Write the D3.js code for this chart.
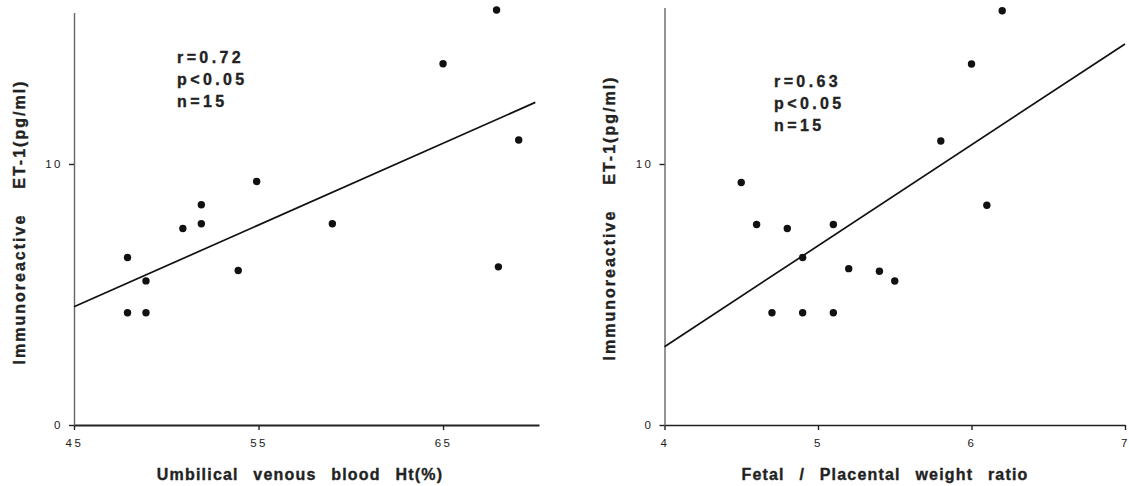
<!DOCTYPE html>
<html>
<head>
<meta charset="utf-8">
<script src="https://cdn.jsdelivr.net/npm/d3@7"></script>
<style>
	body { margin: 0; background: #fff; }
	svg { display: block; font-family: "Liberation Sans", Arial, sans-serif; }
	.tick text { font-size: 11.5px; letter-spacing: 2.5px; fill: #222; }
	.heavy { stroke: #222; stroke-width: 0.35px; }
</style>
</head>
<body>
<div id="chart"></div>
<script>
// Values
var htValues = [47.9, 47.9, 48.9, 48.9, 50.9, 51.9, 51.9, 53.9, 54.9, 59.0, 65.0, 67.9, 68.0, 69.1];
var htEt1 = [6.42, 4.30, 5.52, 4.30, 7.53, 8.44, 7.71, 5.92, 9.33, 7.71, 13.84, 15.90, 6.06, 10.92];
var htFitX = [45, 70];
var htFitY = [4.53, 12.36];
var htTicks = [45, 55, 65];
var htStats = ["r=0.72", "p<0.05", "n=15"];

var ratioValues = [4.5, 4.6, 4.8, 5.1, 4.9, 5.2, 5.4, 5.5, 4.7, 4.9, 5.1, 5.8, 6.0, 6.2, 6.1];
var ratioEt1 = [9.29, 7.68, 7.53, 7.68, 6.42, 5.99, 5.89, 5.52, 4.30, 4.30, 4.30, 10.88, 13.83, 15.87, 8.42];
var ratioFitX = [4, 7];
var ratioFitY = [3.0, 14.6];
var ratioTicks = [4, 5, 6, 7];
var ratioStats = ["r=0.63", "p<0.05", "n=15"];

var yTicks = [0, 10];
var yLabelParts = ["Immunoreactive", "ET-1(pg/ml)"];

var svg = d3.select("#chart").append("svg")
	.attr("width", 1129)
	.attr("height", 486);

// Draws one scatter panel: axes, points, fitted line, stats text and axis titles
function drawPanel(p){
	var x = d3.scaleLinear().domain(p.xDomain).range(p.xRange);
	var y = d3.scaleLinear().domain([0, p.yMax]).range([425, p.yTop]);
	var g = svg.append("g");

	var xAxis = g.append("g")
		.attr("transform", "translate(0,425)")
		.call(d3.axisBottom(x).tickValues(p.ticks).tickFormat(d3.format("d")).tickSize(5).tickSizeOuter(0).tickPadding(9));
	xAxis.select(".domain").attr("stroke", "#222").attr("stroke-width", p.xAxisWidth);
	xAxis.selectAll(".tick line").attr("stroke", "#222").attr("stroke-width", 1.4);

	var yAxis = g.append("g")
		.attr("transform", "translate(" + p.xRange[0] + ",0)")
		.call(d3.axisLeft(y).tickValues(yTicks).tickFormat(d3.format("d")).tickSize(5).tickSizeOuter(0).tickPadding(6));
	yAxis.select(".domain").attr("stroke", "#666").attr("stroke-width", 1.4);
	yAxis.selectAll(".tick line").attr("stroke", "#222").attr("stroke-width", 1.4);

	// regression line
	var fit = p.fitX.map(function(d, i){ return [d, p.fitY[i]]; });
	g.append("path")
		.datum(fit)
		.attr("fill", "none")
		.attr("stroke", "#111")
		.attr("stroke-width", 1.7)
		.attr("d", d3.line().x(function(d){ return x(d[0]); }).y(function(d){ return y(d[1]); }));

	var pts = p.xs.map(function(d, i){ return [d, p.ys[i]]; });
	g.selectAll("circle.pt").data(pts).enter().append("circle")
		.attr("class", "pt")
		.attr("cx", function(d){ return x(d[0]); })
		.attr("cy", function(d){ return y(d[1]); })
		.attr("r", 3.7)
		.attr("fill", "#111");

	g.selectAll("text.stat").data(p.stats).enter().append("text")
		.attr("class", "stat heavy")
		.attr("x", p.statX)
		.attr("y", function(d, i){ return p.statY + i * 22; })
		.attr("font-size", "16px")
		.attr("font-weight", "bold")
		.attr("letter-spacing", "3.4px")
		.attr("fill", "#222")
		.text(function(d){ return d; });

	var yLabel = g.append("text")
		.attr("class", "heavy")
		.attr("transform", "translate(" + p.yLabelX + "," + p.yLabelY + ") rotate(-90)")
		.attr("text-anchor", "middle")
		.attr("font-size", "16px")
		.attr("font-weight", "bold")
		.attr("letter-spacing", "2px")
		.attr("fill", "#222");
	yLabel.append("tspan").text(yLabelParts[0]);
	yLabel.append("tspan").attr("dx", 25).text(yLabelParts[1]);

	g.append("text")
		.attr("class", "heavy")
		.attr("x", p.xLabelX)
		.attr("y", 480)
		.attr("text-anchor", "middle")
		.attr("font-size", "16px")
		.attr("font-weight", "bold")
		.attr("letter-spacing", "1.2px")
		.attr("word-spacing", "9px")
		.attr("fill", "#222")
		.text(p.xLabel);
}

drawPanel({
	xs: htValues, ys: htEt1, fitX: htFitX, fitY: htFitY, ticks: htTicks, stats: htStats,
	xDomain: [45, 70.2], xRange: [74, 539], yMax: 15.8, yTop: 12.6, xAxisWidth: 2,
	statX: 177, statY: 63, yLabelX: 25, yLabelY: 222,
	xLabelX: 300, xLabel: "Umbilical venous blood Ht(%)"
});

drawPanel({
	xs: ratioValues, ys: ratioEt1, fitX: ratioFitX, fitY: ratioFitY, ticks: ratioTicks, stats: ratioStats,
	xDomain: [4, 7], xRange: [664.5, 1125], yMax: 16, yTop: 7.4, xAxisWidth: 1.6,
	statX: 774, statY: 87, yLabelX: 615, yLabelY: 218,
	xLabelX: 885, xLabel: "Fetal / Placental weight ratio"
});
</script>
</body>
</html>
